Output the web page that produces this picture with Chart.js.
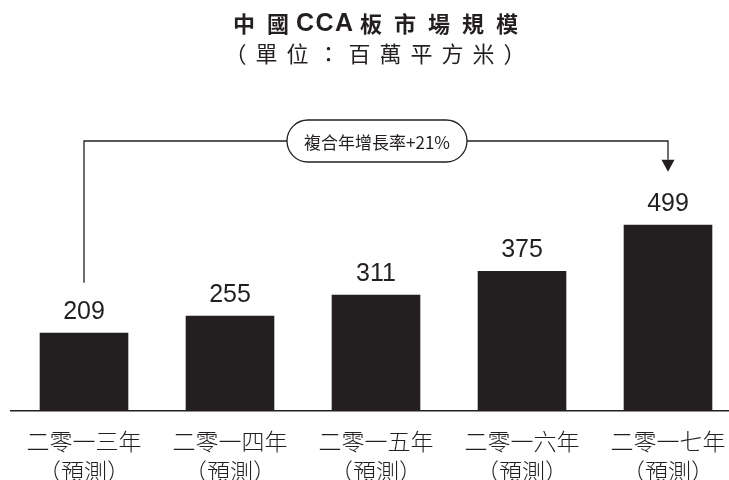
<!DOCTYPE html>
<html>
<head>
<meta charset="utf-8">
<script src="https://cdn.jsdelivr.net/npm/chart.js@4/dist/chart.umd.min.js"></script>
<style>
  html, body { margin: 0; padding: 0; background: #fff; overflow: hidden; }
  canvas { display: block; }
</style>
</head>
<body>
<canvas id="chart" width="746" height="480"></canvas>
<script>
const years = ['二零一三年', '二零一四年', '二零一五年', '二零一六年', '二零一七年']
const forecastNote = '（預測）'
const values = [209, 255, 311, 375, 499]
const titleLines = ['中國CCA板市場規模', '（單位：百萬平方米）']
const cagrLabel = '複合年增長率+21%'

const INK = '#231f20'
const CJK = '"Noto Sans CJK TC", "Noto Sans CJK SC", sans-serif'
const LATIN = '"Liberation Sans", Arial, sans-serif'

// draws a line of text made of runs, each with its own font and letter spacing, centred on cx
function drawRuns(ctx, runs, cx, cy, gap) {
    ctx.textAlign = 'left'
    ctx.textBaseline = 'middle'
    const widths = runs.map((r) => {
        ctx.font = r.font
        ctx.letterSpacing = '0px'
        return ctx.measureText(r.text).width + r.ls * ([...r.text].length - 1)
    })
    const total = widths.reduce((a, b) => a + b, 0) + gap * (runs.length - 1)
    let xPos = cx - total / 2
    runs.forEach((r, i) => {
        ctx.font = r.font
        ctx.letterSpacing = r.ls + 'px'
        ctx.fillText(r.text, xPos, cy)
        xPos += widths[i] + gap
    })
    ctx.letterSpacing = '0px'
}

// title, value labels and the CAGR bracket
const overlay = {
    id: 'overlay',
    afterDatasetsDraw(chart) {
        const { ctx, scales: { x, y } } = chart
        const bars = chart.getDatasetMeta(0).data
        ctx.save()
        ctx.fillStyle = INK
        ctx.strokeStyle = INK

        // title
        const runs1 = titleLines[0].split(/([A-Za-z]+)/).filter(Boolean).map((t) =>
            /[A-Za-z]/.test(t)
                ? { text: t, font: 'bold 25px ' + LATIN, ls: 1.5 }
                : { text: t, font: 'bold 22px ' + CJK, ls: 12 })
        drawRuns(ctx, runs1, 375.5, 24, 7)
        drawRuns(ctx, [{ text: titleLines[1], font: '22px ' + CJK, ls: 9 }], 375, 54, 0)

        // value labels
        ctx.font = '25px ' + LATIN
        ctx.textAlign = 'center'
        ctx.textBaseline = 'alphabetic'
        bars.forEach((bar, i) => {
            ctx.fillText(values[i], bar.x, bar.y - 14)
        })

        // bracket
        const x0 = x.getPixelForValue(0)
        const x1 = x.getPixelForValue(values.length - 1)
        const yLine = 141
        const yStart = y.getPixelForValue(values[0]) - 50
        const yTip = y.getPixelForValue(values[values.length - 1]) - 53
        const pillL = 287, pillR = 467, pillH = 42
        ctx.lineWidth = 1.3
        ctx.beginPath()
        ctx.moveTo(x0, yStart)
        ctx.lineTo(x0, yLine)
        ctx.lineTo(pillL, yLine)
        ctx.moveTo(pillR, yLine)
        ctx.lineTo(x1, yLine)
        ctx.lineTo(x1, yTip - 12)
        ctx.stroke()
        ctx.beginPath()
        ctx.moveTo(x1 - 6.5, yTip - 12)
        ctx.lineTo(x1 + 6.5, yTip - 12)
        ctx.lineTo(x1, yTip)
        ctx.closePath()
        ctx.fill()

        ctx.beginPath()
        ctx.roundRect(pillL, yLine - pillH / 2, pillR - pillL, pillH, pillH / 2)
        ctx.stroke()
        ctx.font = '17px ' + CJK
        ctx.textAlign = 'center'
        ctx.textBaseline = 'middle'
        ctx.fillText(cagrLabel, (pillL + pillR) / 2, yLine + 2)
        ctx.restore()
    }
}

new Chart(document.getElementById('chart'), {
    type: 'bar',
    data: {
        labels: years.map((yr) => [yr, forecastNote]),
        datasets: [{
            data: values,
            backgroundColor: INK,
            barPercentage: 0.607,
            categoryPercentage: 1
        }]
    },
    options: {
        responsive: false,
        animation: false,
        layout: { padding: { left: 11, right: 5, top: 100, bottom: 0 } },
        plugins: {
            legend: { display: false },
            tooltip: { enabled: false },
            title: { display: false }
        },
        scales: {
            x: {
                grid: { display: false, drawTicks: false },
                border: { display: true, color: INK, width: 1.5 },
                afterFit(scale) { scale.height = 69.3 },
                ticks: {
                    color: INK,
                    padding: 16.4,
                    maxRotation: 0,
                    font: { family: CJK, size: 23, weight: 300, lineHeight: 1.27 }
                }
            },
            y: {
                display: false,
                min: 0,
                max: 834
            }
        }
    },
    plugins: [overlay]
})
</script>
</body>
</html>
